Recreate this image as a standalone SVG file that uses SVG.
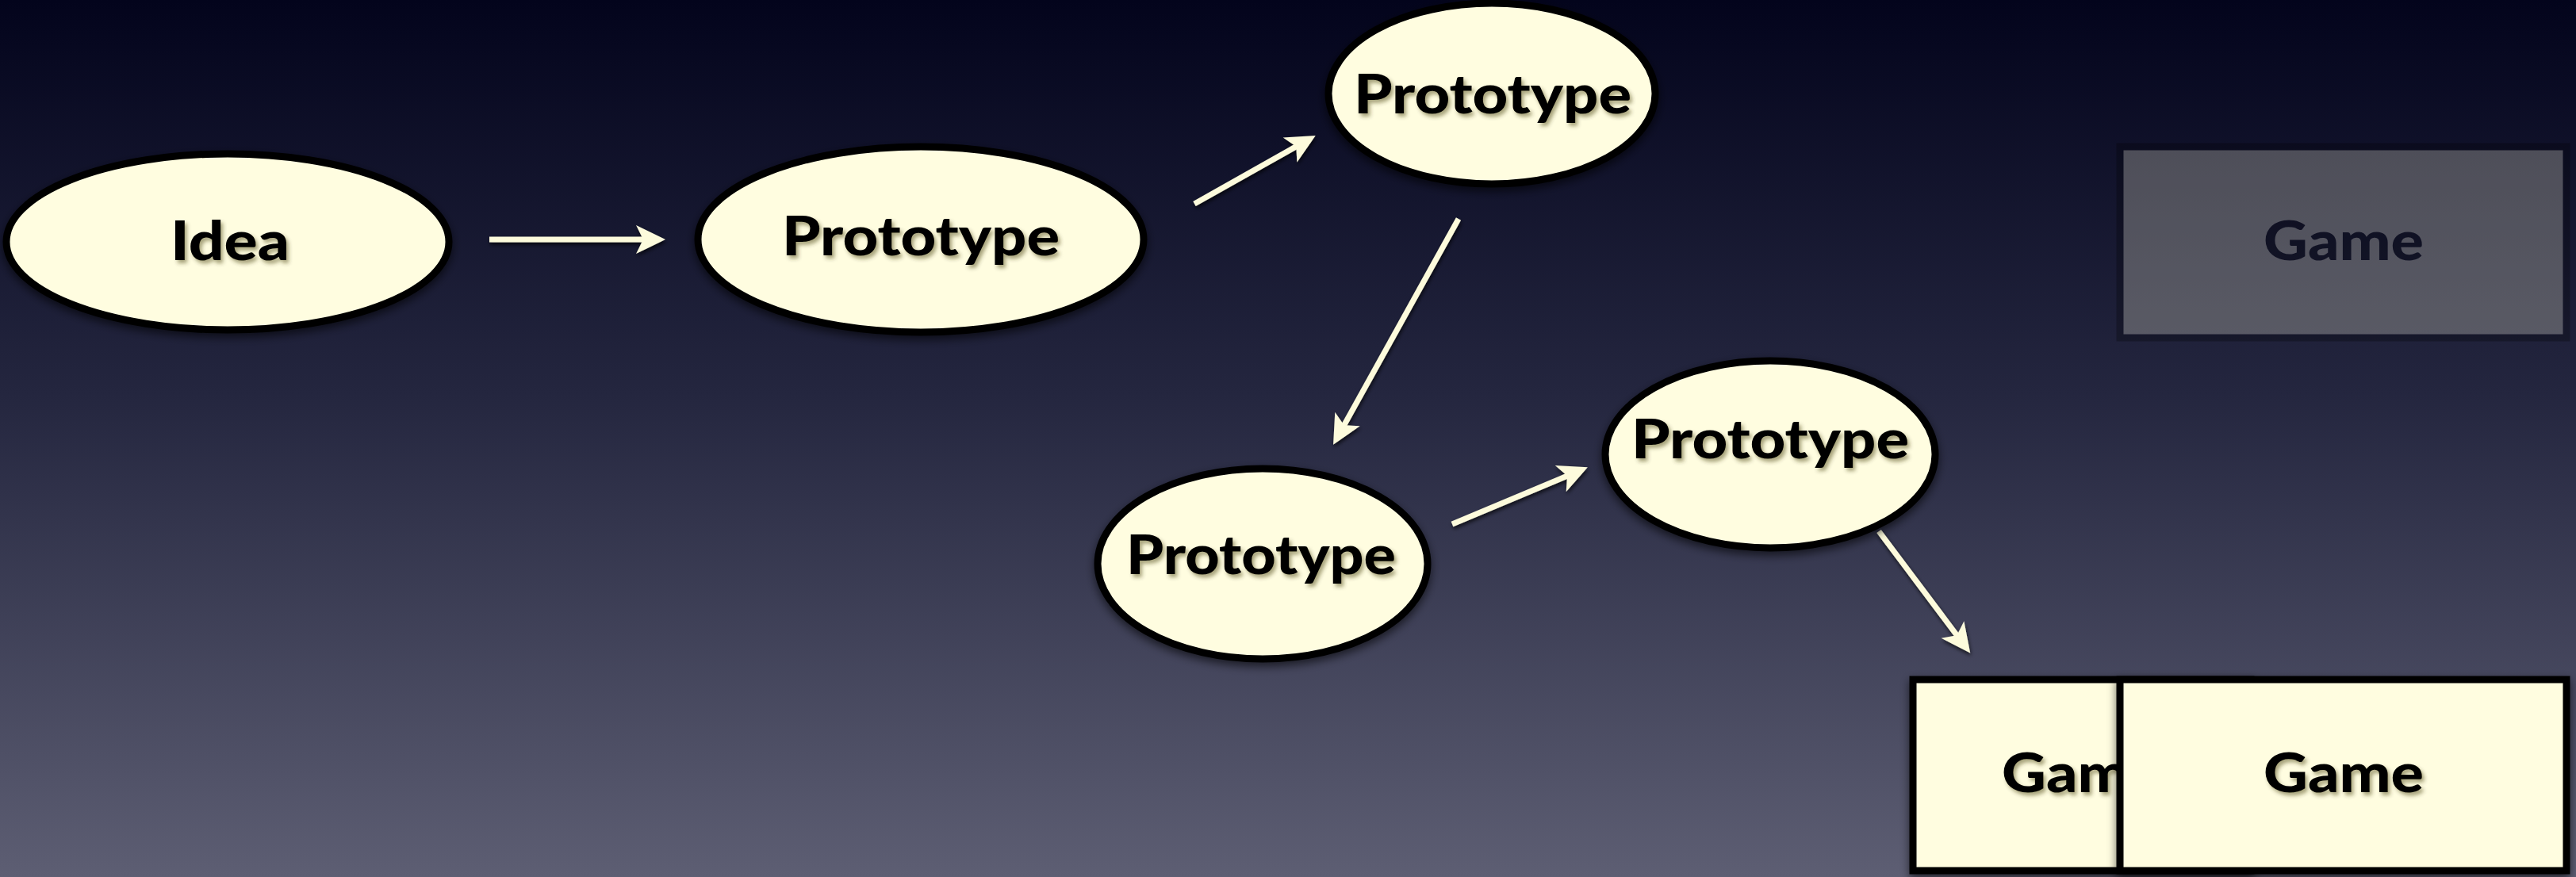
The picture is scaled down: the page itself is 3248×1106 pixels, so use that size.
<svg xmlns="http://www.w3.org/2000/svg" width="3248" height="1106" viewBox="0 0 3248 1106">
  <defs>
    <linearGradient id="bg" x1="0" y1="0" x2="0" y2="1">
      <stop offset="0" stop-color="#03041c"/>
      <stop offset="0.45" stop-color="#24263f"/>
      <stop offset="1" stop-color="#5d5e73"/>
    </linearGradient>
    <filter id="nodeShadow" x="-10%" y="-10%" width="120%" height="130%">
      <feDropShadow dx="0" dy="5" stdDeviation="6" flood-color="#000" flood-opacity="0.6"/>
    </filter>
    <filter id="textShadow" x="-10%" y="-20%" width="120%" height="150%">
      <feDropShadow dx="3" dy="4" stdDeviation="2.5" flood-color="#3a3000" flood-opacity="0.45"/>
    </filter>
    <filter id="arrowShadow" x="-20%" y="-20%" width="140%" height="140%">
      <feDropShadow dx="1" dy="3" stdDeviation="2.5" flood-color="#000" flood-opacity="0.7"/>
    </filter>
    <marker id="head" markerUnits="userSpaceOnUse" viewBox="-5 -25 50 50" markerWidth="50" markerHeight="50" refX="25" refY="0" orient="auto" overflow="visible">
      <path d="M 0 -18 L 37 0 L 0 18 L 9 0 Z" fill="#fdfbdc"/>
    </marker>
  </defs>
  <style>
    .node { fill: #fffde0; stroke: #000; stroke-width: 9; }
    .label { font-family: Lato, "Open Sans", "Liberation Sans", sans-serif; font-weight: 900; font-size: 68px; fill: #000; text-anchor: middle; }
    .conn { stroke: #fdfbdc; stroke-width: 7; fill: none; marker-end: url(#head); }
  </style>

  <rect x="0" y="0" width="3248" height="1106" fill="url(#bg)"/>

  <g id="connectors" filter="url(#arrowShadow)">
    <line class="conn" x1="617" y1="302" x2="827" y2="302"/>
    <line class="conn" x1="1506" y1="257" x2="1648.3" y2="176.9"/>
    <line class="conn" x1="1839" y1="276" x2="1686.9" y2="550.3"/>
    <line class="conn" x1="1831" y1="661" x2="1990.8" y2="593.9"/>
    <line class="conn" x1="2369" y1="670" x2="2477" y2="814"/>
  </g>

  <g id="idea">
    <ellipse class="node" cx="287" cy="305" rx="279" ry="111" filter="url(#nodeShadow)"/>
    <text class="label" x="290" y="328" textLength="150" lengthAdjust="spacingAndGlyphs" filter="url(#textShadow)">Idea</text>
  </g>

  <g id="prototype1">
    <ellipse class="node" cx="1161" cy="302" rx="281" ry="117" filter="url(#nodeShadow)"/>
    <text class="label" x="1161" y="322" textLength="350" lengthAdjust="spacingAndGlyphs" filter="url(#textShadow)">Prototype</text>
  </g>

  <g id="prototype2">
    <ellipse class="node" cx="1881" cy="118" rx="206" ry="114" filter="url(#nodeShadow)"/>
    <text class="label" x="1882" y="143" textLength="350" lengthAdjust="spacingAndGlyphs" filter="url(#textShadow)">Prototype</text>
  </g>

  <g id="prototype3">
    <ellipse class="node" cx="1592" cy="711" rx="208" ry="120" filter="url(#nodeShadow)"/>
    <text class="label" x="1590" y="724" textLength="340" lengthAdjust="spacingAndGlyphs" filter="url(#textShadow)">Prototype</text>
  </g>

  <g id="prototype4">
    <ellipse class="node" cx="2232" cy="573" rx="208" ry="118" filter="url(#nodeShadow)"/>
    <text class="label" x="2232" y="578" textLength="350" lengthAdjust="spacingAndGlyphs" filter="url(#textShadow)">Prototype</text>
  </g>

  <g id="game-faded" opacity="0.26">
    <rect class="node" x="2673" y="185" width="563" height="241"/>
    <text class="label" x="2955" y="328" textLength="202" lengthAdjust="spacingAndGlyphs">Game</text>
  </g>

  <g id="game-left">
    <rect class="node" x="2412" y="857" width="426" height="241" filter="url(#nodeShadow)"/>
    <text class="label" x="2625" y="999" textLength="202" lengthAdjust="spacingAndGlyphs" filter="url(#textShadow)">Game</text>
  </g>

  <g id="game-right">
    <rect class="node" x="2673" y="857" width="563" height="241" filter="url(#nodeShadow)"/>
    <text class="label" x="2955" y="999" textLength="202" lengthAdjust="spacingAndGlyphs" filter="url(#textShadow)">Game</text>
  </g>
</svg>
